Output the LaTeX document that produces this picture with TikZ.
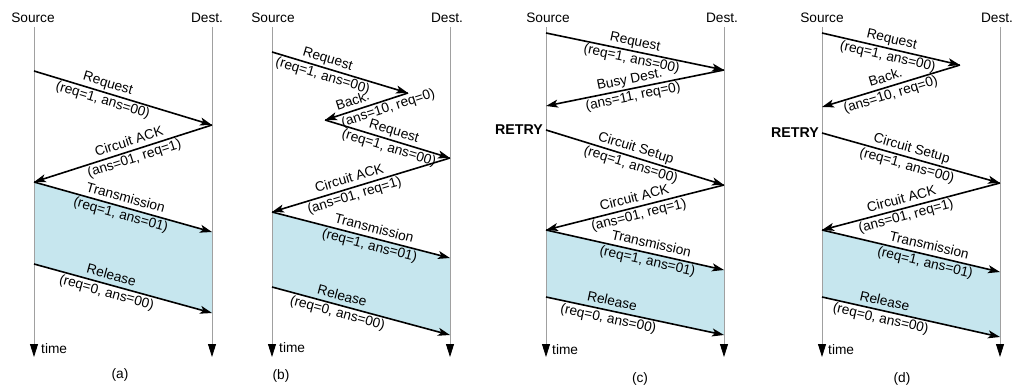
\documentclass[tikz,border=0pt]{standalone}
\usepackage{fontspec}
\setmainfont{Liberation Sans}
\usetikzlibrary{arrows.meta}
\definecolor{shadefill}{RGB}{198,230,238}
\definecolor{lifeline}{RGB}{160,160,160}
\begin{document}
\begin{tikzpicture}[x=1pt,y=-1pt,
  font=\fontsize{13.7}{17.5}\selectfont,
  msg/.style={line width=1.6pt,-{Stealth[length=12pt,width=8pt,inset=3pt]}},
  lbl/.style={sloped,align=center,inner sep=0pt},
  life/.style={draw=lifeline,line width=0.8pt,-{Triangle[length=13pt,width=8pt,color=black]}},
  head/.style={inner sep=0pt},
  retry/.style={inner sep=0pt,anchor=east,font=\fontsize{14.2}{17}\selectfont\bfseries},
  timelbl/.style={inner sep=0pt,anchor=west},
  sub/.style={inner sep=0pt},
  window/.style={fill=shadefill}]
\useasboundingbox (0,0) rectangle (1016,387);

% ---------------- panel (a)
\coordinate (aS0) at (34,27);  \coordinate (aS1) at (34,357);
\coordinate (aD0) at (212,27); \coordinate (aD1) at (212,357);
\coordinate (a1) at (34,71);  \coordinate (a2) at (212,125);
\coordinate (a3) at (34,182); \coordinate (a4) at (212,232);
\coordinate (a5) at (34,264); \coordinate (a6) at (212,313);
\fill[window] (a3) -- (a4) -- (a6) -- (a5) -- cycle;
\draw[life] (aS0) -- (aS1);
\draw[life] (aD0) -- (aD1);
\node[head] (aSrc) at (33,18) {Source};
\node[head] (aDst) at (207,18) {Dest.};
\node[timelbl] (aTime) at (41,349) {time};
\node[sub] (aSub) at (120,375) {(a)};
\draw[msg] (a1) -- node[lbl,pos=0.40] (aL1) {Request\\(req=1, ans=00)} (a2);
\draw[msg] (a2) -- node[lbl,pos=0.45] (aL2) {Circuit ACK\\(ans=01, req=1)} (a3);
\draw[msg] (a3) -- node[lbl,pos=0.50] (aL3) {Transmission\\(req=1, ans=01)} (a4);
\draw[msg] (a5) -- node[lbl,pos=0.42] (aL4) {Release\\(req=0, ans=00)} (a6);

% ---------------- panel (b)
\coordinate (bS0) at (272,27);  \coordinate (bS1) at (272,357);
\coordinate (bD0) at (450,27);  \coordinate (bD1) at (450,357);
\coordinate (b1) at (272,52);  \coordinate (b2) at (408,93);
\coordinate (b3) at (325,120); \coordinate (b4) at (450,158);
\coordinate (b5) at (272,212); \coordinate (b6) at (450,258);
\coordinate (b7) at (272,287); \coordinate (b8) at (450,335);
\fill[window] (b5) -- (b6) -- (b8) -- (b7) -- cycle;
\draw[life] (bS0) -- (bS1);
\draw[life] (bD0) -- (bD1);
\node[head] (bSrc) at (273,18) {Source};
\node[head] (bDst) at (447,18) {Dest.};
\node[timelbl] (bTime) at (279,348) {time};
\node[sub] (bSub) at (281,376) {(b)};
\draw[msg] (b1) -- node[lbl,pos=0.39] (bL1) {Request\\(req=1, ans=00)} (b2);
\draw[msg] (b2) -- node[lbl,pos=0.27,align=left] (bL2) {Back.\\(ans=10, req=0)} (b3);
\draw[msg] (b3) -- node[lbl,pos=0.53] (bL3) {Request\\(req=1, ans=00)} (b4);
\draw[msg] (b4) -- node[lbl,pos=0.55] (bL4) {Circuit ACK\\(ans=01, req=1)} (b5);
\draw[msg] (b5) -- node[lbl,pos=0.56] (bL5) {Transmission\\(req=1, ans=01)} (b6);
\draw[msg] (b7) -- node[lbl,pos=0.38] (bL6) {Release\\(req=0, ans=00)} (b8);

% ---------------- panel (c)
\coordinate (cS0) at (546,27);  \coordinate (cS1) at (546,357);
\coordinate (cD0) at (724,27);  \coordinate (cD1) at (724,357);
\coordinate (c1) at (546,33);  \coordinate (c2) at (724,70);
\coordinate (c3) at (546,106); \coordinate (c4) at (546,130);
\coordinate (c5) at (724,185); \coordinate (c6) at (546,230);
\coordinate (c7) at (724,270); \coordinate (c8) at (546,297);
\coordinate (c9) at (724,335);
\fill[window] (c6) -- (c7) -- (c9) -- (c8) -- cycle;
\draw[life] (cS0) -- (cS1);
\draw[life] (cD0) -- (cD1);
\node[head] (cSrc) at (548,18) {Source};
\node[head] (cDst) at (722,18) {Dest.};
\node[timelbl] (cTime) at (552,350) {time};
\node[sub] (cSub) at (640,379) {(c)};
\node[retry] (cRetry) at (543,130) {RETRY};
\draw[msg] (c1) -- node[lbl,pos=0.49] (cL1) {Request\\(req=1, ans=00)} (c2);
\draw[msg] (c2) -- node[lbl,pos=0.52] (cL2) {Busy Dest.\\(ans=11, req=0)} (c3);
\draw[msg] (c4) -- node[lbl,pos=0.49] (cL3) {Circuit Setup\\(req=1, ans=00)} (c5);
\draw[msg] (c5) -- node[lbl,pos=0.49] (cL4) {Circuit ACK\\(ans=01, req=1)} (c6);
\draw[msg] (c6) -- node[lbl,pos=0.58] (cL5) {Transmission\\(req=1, ans=01)} (c7);
\draw[msg] (c8) -- node[lbl,pos=0.36] (cL6) {Release\\(req=0, ans=00)} (c9);

% ---------------- panel (d)
\coordinate (dS0) at (822,27);  \coordinate (dS1) at (822,357);
\coordinate (dD0) at (1000,27); \coordinate (dD1) at (1000,357);
\coordinate (d1) at (822,33);  \coordinate (d2) at (960,65);
\coordinate (d3) at (822,107); \coordinate (d4) at (822,133);
\coordinate (d5) at (1000,183); \coordinate (d6) at (822,230);
\coordinate (d7) at (1000,272); \coordinate (d8) at (822,297);
\coordinate (d9) at (1000,337);
\fill[window] (d6) -- (d7) -- (d9) -- (d8) -- cycle;
\draw[life] (dS0) -- (dS1);
\draw[life] (dD0) -- (dD1);
\node[head] (dSrc) at (822,18) {Source};
\node[head] (dDst) at (997,18) {Dest.};
\node[timelbl] (dTime) at (828,350) {time};
\node[sub] (dSub) at (902,379) {(d)};
\node[retry] (dRetry) at (819,133) {RETRY};
\draw[msg] (d1) -- node[lbl,pos=0.49] (dL1) {Request\\(req=1, ans=00)} (d2);
\draw[msg] (d2) -- node[lbl,pos=0.52] (dL2) {Back.\\(ans=10, req=0)} (d3);
\draw[msg] (d4) -- node[lbl,pos=0.49] (dL3) {Circuit Setup\\(req=1, ans=00)} (d5);
\draw[msg] (d5) -- node[lbl,pos=0.54] (dL4) {Circuit ACK\\(ans=01, req=1)} (d6);
\draw[msg] (d6) -- node[lbl,pos=0.59] (dL5) {Transmission\\(req=1, ans=01)} (d7);
\draw[msg] (d8) -- node[lbl,pos=0.34] (dL6) {Release\\(req=0, ans=00)} (d9);
\end{tikzpicture}
\end{document}
